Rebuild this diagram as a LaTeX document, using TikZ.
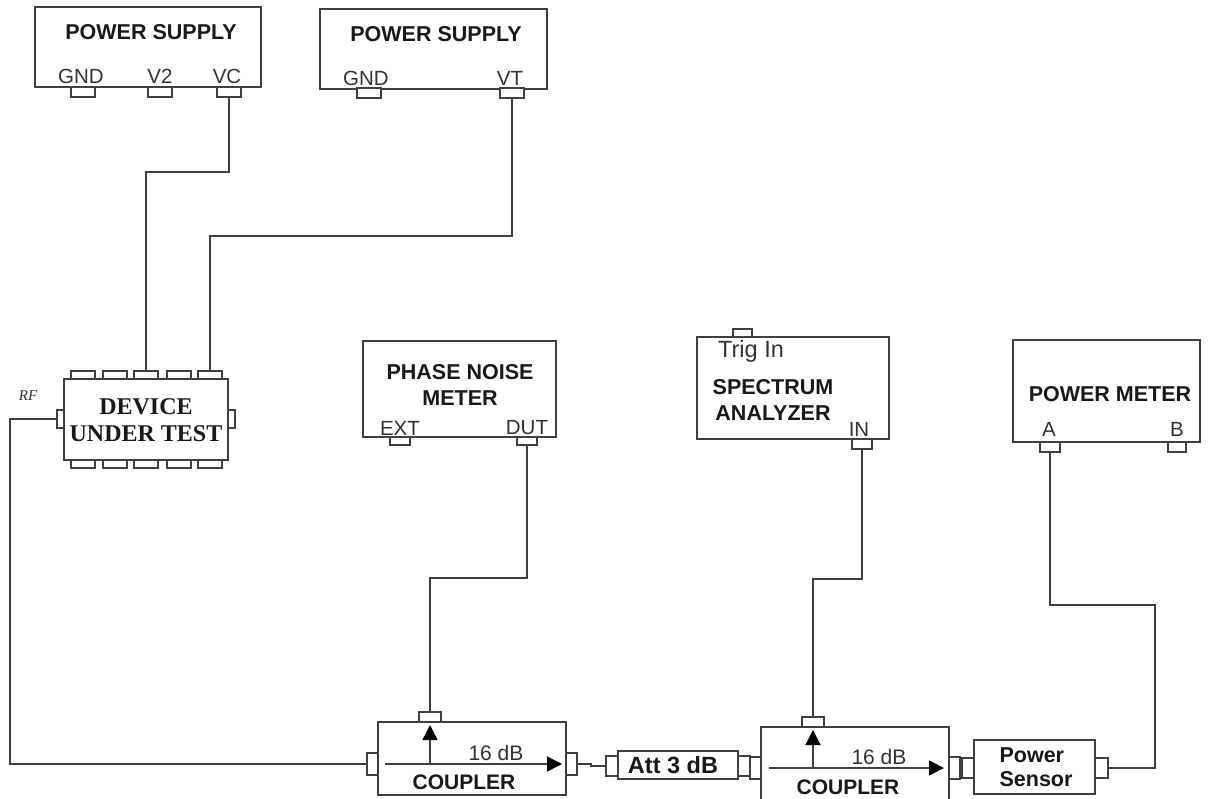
\documentclass[tikz,border=0pt]{standalone}
\usepackage{fontspec}
\setmainfont{Liberation Sans}
\newfontfamily\serifbold{Liberation Serif}
\usetikzlibrary{arrows.meta, positioning, calc}

\begin{document}
\begin{tikzpicture}[x=1pt, y=-1pt]

\tikzset{
  box/.style={draw=black!75, line width=1.4pt, fill=white, inner sep=0pt},
  port/.style={draw=black!75, line width=1.4pt, fill=white, inner sep=0pt,
               minimum width=22pt, minimum height=10pt},
  sideport/.style={port, minimum width=11pt, minimum height=22pt},
  wire/.style={draw=black!75, line width=1.4pt},
  flow/.style={wire, -{Triangle[length=15pt, width=15pt, color=black]}},
  title/.style={font=\fontsize{21.5}{26}\selectfont\bfseries, align=center, text=black!90},
  lbl/.style={font=\fontsize{20.5}{24}\selectfont, text=black!80},
  cpltitle/.style={title, font=\fontsize{21}{24}\selectfont\bfseries},
  cpllbl/.style={lbl, font=\fontsize{21}{24}\selectfont},
}

\useasboundingbox (0,0) rectangle (1215,798);

% ---- Power supplies --------------------------------------------------------
\node[box, minimum width=226pt, minimum height=80pt] (psa) at (148,47) {};
\node[port, minimum width=24pt] (psagnd) at (83,92) {};
\node[port, minimum width=24pt] (psavtwo) at (160,92) {};
\node[port, minimum width=24pt] (psavc) at (229,92) {};
\node[title] (psatitle) at (151,32) {POWER SUPPLY};
\node[lbl] (psagndl) at (81,76) {GND};
\node[lbl] (psavtwol) at (160,76) {V2};
\node[lbl] (psavcl) at (227,76) {VC};

\node[box, minimum width=227pt, minimum height=80pt] (psb) at (433.5,49) {};
\node[port, minimum width=24pt] (psbgnd) at (369,93) {};
\node[port, minimum width=24pt] (psbvt) at (512,93) {};
\node[title] (psbtitle) at (436,34) {POWER SUPPLY};
\node[lbl] (psbgndl) at (366,78) {GND};
\node[lbl] (psbvtl) at (510,78) {VT};

% ---- Device under test -----------------------------------------------------
\node[box, minimum width=164pt, minimum height=81pt] (dut) at (146,419.5) {};
\foreach \i/\x in {1/83, 2/115, 3/146, 4/179, 5/210} {
  \node[port, minimum width=24pt, minimum height=8pt] (duttop\i) at (\x,375) {};
  \node[port, minimum width=24pt, minimum height=8pt] (dutbot\i) at (\x,464) {};
}
\node[sideport, minimum width=7pt, minimum height=18pt] (dutrf) at (60.5,419) {};
\node[sideport, minimum width=7pt, minimum height=18pt] (dutout) at (231.5,419) {};
\node[font=\fontsize{24}{27}\selectfont\serifbold\bfseries, align=center, text=black!90]
  (duttitle) at (146,420) {DEVICE\\UNDER TEST};
\node[font=\fontsize{15}{17}\selectfont\serifbold\itshape, text=black!80] (rflabel) at (28,396) {RF};

% ---- Phase noise meter -----------------------------------------------------
\node[box, minimum width=193pt, minimum height=96pt] (pnm) at (459.5,389) {};
\node[port, minimum width=20pt, minimum height=8pt] (pnmext) at (400,441) {};
\node[port, minimum width=20pt, minimum height=8pt] (pnmdut) at (527,441) {};
\node[title] (pnmtitle) at (460,385) {PHASE NOISE\\METER};
\node[lbl] (pnmextl) at (400,428) {EXT};
\node[lbl] (pnmdutl) at (527,428) {DUT};

% ---- Spectrum analyzer -----------------------------------------------------
\node[box, minimum width=192pt, minimum height=102pt] (spa) at (793,388) {};
\node[port, minimum width=19pt, minimum height=8pt] (spatrig) at (742.5,333) {};
\node[port, minimum width=20pt] (spain) at (862,444) {};
\node[lbl, font=\fontsize{23.5}{26}\selectfont] (spatrigl) at (751,351) {Trig In};
\node[title] (spatitle) at (773,400) {SPECTRUM\\ANALYZER};
\node[lbl] (spainl) at (859,429) {IN};

% ---- Power meter -----------------------------------------------------------
\node[box, minimum width=187pt, minimum height=102pt] (pwm) at (1106.5,391) {};
\node[port, minimum width=20pt] (pwma) at (1050,447) {};
\node[port, minimum width=18pt] (pwmb) at (1177,447) {};
\node[title] (pwmtitle) at (1110,394) {POWER METER};
\node[lbl] (pwmal) at (1049,429) {A};
\node[lbl] (pwmbl) at (1177,429) {B};

% ---- First coupler ---------------------------------------------------------
\node[box, minimum width=188pt, minimum height=73pt] (cpa) at (472,758.5) {};
\node[port] (cpatop) at (430,717) {};
\node[sideport] (cpain) at (372.5,764) {};
\node[sideport] (cpaout) at (571.5,764) {};
\coordinate (cpastart) at (385,764);
\coordinate (cpaend) at (562,764);
\coordinate (cpatap) at (430,764);
\coordinate (cpaup) at (430,725);
\node[cpllbl] (cpadb) at (496,753) {16 dB};
\node[cpltitle] (cpatitle) at (464,782) {COUPLER};

% ---- Attenuator ------------------------------------------------------------
\node[box, minimum width=120pt, minimum height=28pt] (att) at (678,765) {};
\node[sideport, minimum width=12pt, minimum height=20pt] (attin) at (612,766) {};
\node[sideport, minimum width=12pt, minimum height=20pt] (attout) at (744,766) {};
\node[title, font=\fontsize{23.5}{26}\selectfont\bfseries] (atttitle) at (673,765) {Att 3 dB};

% ---- Second coupler --------------------------------------------------------
\node[box, minimum width=188pt, minimum height=73pt] (cpb) at (855,763.5) {};
\node[port] (cpbtop) at (813,722) {};
\node[sideport] (cpbin) at (755.5,768) {};
\node[sideport] (cpbout) at (954.5,768) {};
\coordinate (cpbstart) at (769,768);
\coordinate (cpbend) at (944,768);
\coordinate (cpbtap) at (813,768);
\coordinate (cpbup) at (813,730);
\node[cpllbl] (cpbdb) at (879,757) {16 dB};
\node[cpltitle] (cpbtitle) at (848,787) {COUPLER};

% ---- Power sensor ----------------------------------------------------------
\node[box, minimum width=121pt, minimum height=54pt] (sns) at (1034.5,767) {};
\node[sideport, minimum width=12pt, minimum height=20pt] (snsin) at (968,768) {};
\node[sideport, minimum width=13pt, minimum height=20pt] (snsout) at (1101.5,768) {};
\node[title, align=left, font=\fontsize{21.5}{24}\selectfont\bfseries] (snstitle) at (1036,767) {Power\\Sensor};

% ---- Connections -----------------------------------------------------------
\coordinate (vcbend) at (146,172);
\coordinate (vtbend) at (210,236);
\coordinate (rfbend) at (10,419);
\coordinate (dutbend) at (430,578);
\coordinate (inbend) at (813,579);
\coordinate (snsbend) at (1155,768);
\coordinate (abend) at (1155,605);
\coordinate (jogl) at (591,764);
\coordinate (jogr) at (591,766);

\draw[wire] (psavc.south) |- (vcbend) -- (duttop3.north);
\draw[wire] (psbvt.south) |- (vtbend) -- (duttop5.north);
\draw[wire] (dutrf.west) -- (rfbend) |- (cpain.west);
\draw[wire] (pnmdut.south) |- (dutbend) -- (cpatop.north);
\draw[wire] (spain.south) |- (inbend) -- (cpbtop.north);
\draw[wire] (snsout.east) -- (snsbend) -- (abend) -| (pwma.south);
\draw[wire] (cpaout.east) -- (jogl) -- (jogr) -- (attin.west);

\draw[flow] (cpastart) -- (cpaend);
\draw[flow] (cpatap) -- (cpaup);
\draw[flow] (cpbstart) -- (cpbend);
\draw[flow] (cpbtap) -- (cpbup);

\end{tikzpicture}
\end{document}
